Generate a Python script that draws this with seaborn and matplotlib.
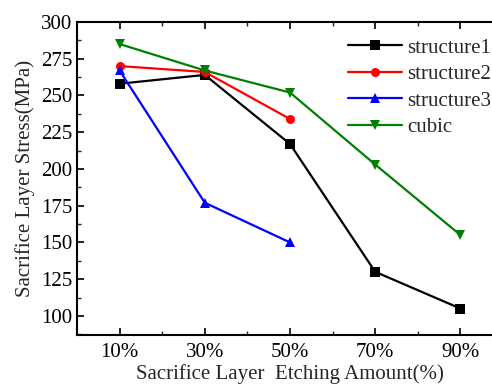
import matplotlib
matplotlib.use("Agg")
import matplotlib.pyplot as plt
import seaborn as sns
import pandas as pd
from matplotlib.ticker import MultipleLocator, FixedLocator

categories = ["10%", "30%", "50%", "70%", "90%"]
structure1 = [258, 264, 217, 130, 105]
structure2 = [270, 266, 234]
structure3 = [267, 177, 150]
cubic = [285, 267, 252, 203, 155]

series = {"structure1": structure1, "structure2": structure2,
          "structure3": structure3, "cubic": cubic}
rows = []
for name, vals in series.items():
    for i, v in enumerate(vals):
        rows.append({"x": i, "y": v, "series": name})
df = pd.DataFrame(rows)

sns.set_theme(style="ticks")
plt.rcParams["font.family"] = ["Liberation Serif", "DejaVu Serif"]

fig = plt.figure(figsize=(4.92, 3.90), dpi=100)
ax = fig.add_axes([77/492, (390-335)/390, (503-77)/492, (335-22)/390])

palette = {"structure1": "black", "structure2": "red", "structure3": "blue", "cubic": "green"}
markers = {"structure1": "s", "structure2": "o", "structure3": "^", "cubic": "v"}
sns.lineplot(data=df, x="x", y="y", hue="series", style="series", markers=markers,
             dashes=False, palette=palette, ax=ax, linewidth=1.6, markersize=6.5,
             markeredgewidth=0)

ax.set_xlim(-0.5, 4.5)
ax.set_ylim(87, 300)
ax.set_xticks(range(len(categories)))
ax.set_xticklabels(categories)
ax.xaxis.set_minor_locator(FixedLocator([0.5, 1.5, 2.5, 3.5]))
ax.yaxis.set_major_locator(MultipleLocator(25))
ax.yaxis.set_minor_locator(MultipleLocator(12.5))
ax.tick_params(axis="both", which="major", direction="in", length=5, width=1.2,
               labelsize=15, top=True, right=True, colors="black")
ax.tick_params(axis="x", which="major", pad=6)
ax.tick_params(axis="both", which="minor", direction="in", length=3, width=1,
               top=True, right=True)
for s in ax.spines.values():
    s.set_linewidth(1.5)
    s.set_color("black")

ax.set_xlabel("Sacrifice Layer  Etching Amount(%)", fontsize=15, labelpad=1)
ax.set_ylabel("Sacrifice Layer Stress(MPa)", fontsize=15, labelpad=4)

leg = ax.legend(loc="upper left", bbox_to_anchor=((348-77)/426, (335-38)/313), frameon=False,
                fontsize=15, handlelength=2.6, handletextpad=0.25, labelspacing=0.33,
                borderaxespad=0, borderpad=0)
for h in leg.legend_handles:
    h.set_linewidth(1.6)

fig.savefig("out.png", dpi=100)
